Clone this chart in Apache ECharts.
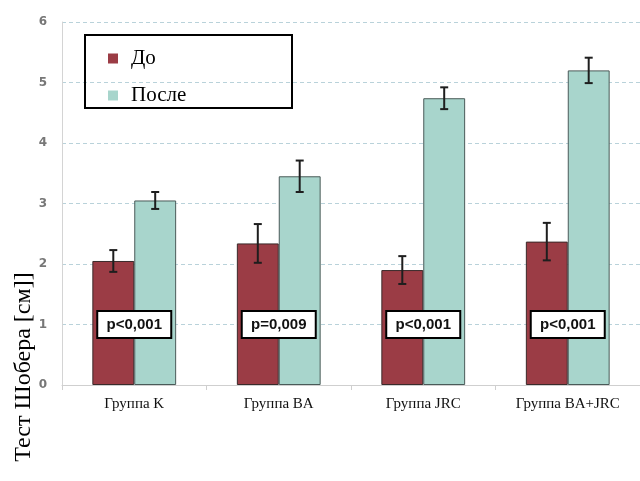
<!DOCTYPE html>
<html>
<head>
<meta charset="utf-8">
<script src="https://cdn.jsdelivr.net/npm/echarts@6/dist/echarts.min.js"></script>
<style>
  html, body { margin: 0; padding: 0; background: #fff; }
  #chart { width: 640px; height: 481px; }
</style>
</head>
<body>
<div id="chart"></div>
<script>
// Schober test, before and after, per treatment group
const categories = ['Группа K', 'Группа BA', 'Группа JRC', 'Группа BA+JRC'];
const beforeValues = [2.05, 2.34, 1.90, 2.37];
const beforeErrors = [0.18, 0.32, 0.23, 0.31];
const afterValues = [3.05, 3.45, 4.74, 5.20];
const afterErrors = [0.14, 0.26, 0.18, 0.21];
const pLabels = ['p<0,001', 'p=0,009', 'p<0,001', 'p<0,001'];
const pLabelLevel = 1;
const yTicks = [0, 1, 2, 3, 4, 5, 6];
const yTitle = 'Тест Шобера [см]]';

const RED = '#9b3c45';
const TEAL = '#a8d5cc';
const CAT_GAP = 0.42;              // share of a category left empty
const BAR_SHARE = (1 - CAT_GAP) / 2; // share of a category per bar

function errorSeries(values, errors, side) {
  return {
    type: 'custom',
    z: 5,
    data: values.map((v, i) => [i, v, errors[i]]),
    renderItem: function (params, api) {
      const idx = api.value(0);
      const v = api.value(1);
      const e = api.value(2);
      const catW = api.size([1, 0])[0];
      const dx = side * catW * BAR_SHARE / 2;
      const hi = api.coord([idx, v + e]);
      const lo = api.coord([idx, v - e]);
      const x = hi[0] + dx;
      const cap = 4;
      const style = { stroke: '#1e1e1e', lineWidth: 2 };
      return {
        type: 'group',
        children: [
          { type: 'line', shape: { x1: x, y1: hi[1], x2: x, y2: lo[1] }, style: style },
          { type: 'line', shape: { x1: x - cap, y1: hi[1], x2: x + cap, y2: hi[1] }, style: style },
          { type: 'line', shape: { x1: x - cap, y1: lo[1], x2: x + cap, y2: lo[1] }, style: style }
        ]
      };
    }
  };
}

const chart = echarts.init(document.getElementById('chart'), null, { renderer: 'canvas' });

chart.setOption({
  animation: false,
  backgroundColor: '#ffffff',
  grid: { left: 62, top: 22, width: 584, height: 363 },
  legend: {
    orient: 'vertical',
    left: 103,
    top: 43,
    itemWidth: 10,
    itemHeight: 10,
    itemGap: 16,
    icon: 'rect',
    data: ['До', 'После'],
    itemStyle: { borderWidth: 0 },
    textStyle: {
      fontFamily: 'Liberation Serif',
      fontSize: 21,
      lineHeight: 20,
      color: '#000',
      padding: [0, 0, 0, 8]
    }
  },
  graphic: [
    {
      type: 'rect',
      left: 84,
      top: 34,
      shape: { width: 207, height: 73 },
      style: { fill: 'rgba(0,0,0,0)', stroke: '#000', lineWidth: 2 },
      z: 10
    },
    {
      type: 'text',
      x: 24,
      y: 367,
      rotation: Math.PI / 2,
      z: 10,
      style: {
        text: yTitle,
        font: '24px "Liberation Serif"',
        fill: '#000',
        align: 'center',
        verticalAlign: 'middle'
      }
    }
  ],
  xAxis: {
    type: 'category',
    data: categories,
    axisLine: { lineStyle: { color: '#cfcfcf', width: 1 } },
    axisTick: { show: true, length: 5, lineStyle: { color: '#cfcfcf' } },
    axisLabel: {
      fontFamily: 'Liberation Serif',
      fontSize: 15,
      color: '#111',
      margin: 12
    }
  },
  yAxis: {
    type: 'value',
    min: yTicks[0],
    max: yTicks[yTicks.length - 1],
    interval: 1,
    axisLine: { show: true, lineStyle: { color: '#d4d4d4', width: 1 } },
    axisTick: { show: false },
    axisLabel: {
      fontFamily: 'DejaVu Sans',
      fontSize: 12,
      fontWeight: 'bold',
      color: '#777',
      margin: 15
    },
    splitLine: { lineStyle: { color: '#b9d2da', type: [4, 3], width: 1 } }
  },
  series: [
    {
      name: 'До',
      type: 'bar',
      data: beforeValues,
      barGap: '0%',
      barCategoryGap: (CAT_GAP * 100) + '%',
      itemStyle: { color: RED, borderColor: '#3a2a2a', borderWidth: 1 }
    },
    {
      name: 'После',
      type: 'bar',
      data: afterValues,
      barGap: '0%',
      barCategoryGap: (CAT_GAP * 100) + '%',
      itemStyle: { color: TEAL, borderColor: '#4a5a58', borderWidth: 1 }
    },
    errorSeries(beforeValues, beforeErrors, -1),
    errorSeries(afterValues, afterErrors, 1),
    {
      type: 'custom',
      z: 8,
      data: pLabels.map((t, i) => [i, pLabelLevel, t]),
      renderItem: function (params, api) {
        const p = api.coord([api.value(0), api.value(1)]);
        const w = 74, h = 27;
        return {
          type: 'group',
          children: [
            {
              type: 'rect',
              shape: { x: p[0] - w / 2, y: p[1] - h / 2, width: w, height: h },
              style: { fill: '#fff', stroke: '#000', lineWidth: 2 }
            },
            {
              type: 'text',
              x: p[0],
              y: p[1],
              style: {
                text: pLabels[params.dataIndex],
                font: 'bold 15px "Liberation Sans"',
                fill: '#111',
                align: 'center',
                verticalAlign: 'middle'
              }
            }
          ]
        };
      }
    }
  ]
});
</script>
</body>
</html>
